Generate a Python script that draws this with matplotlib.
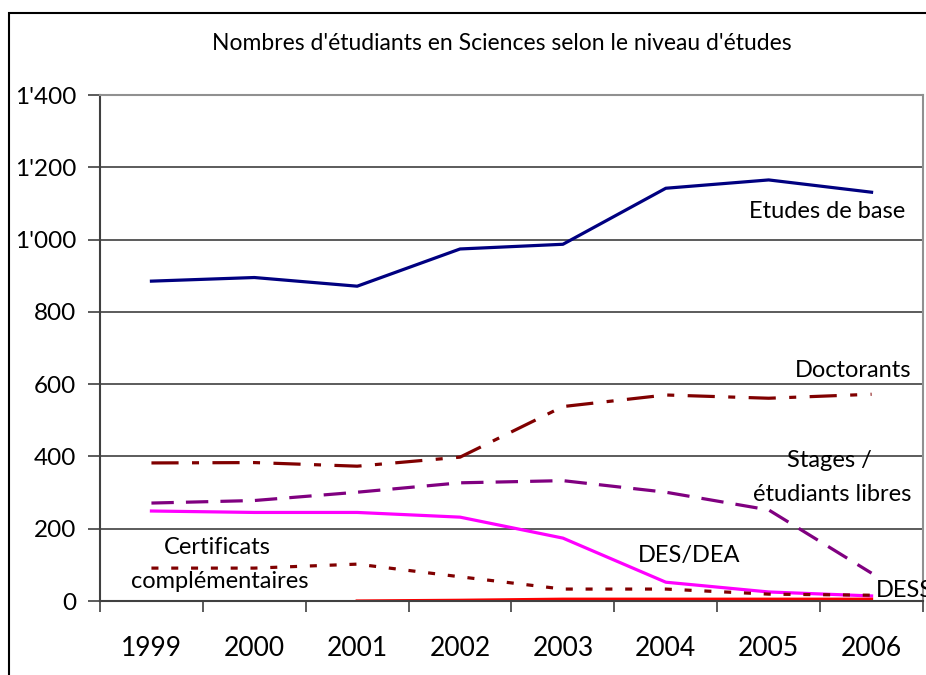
import matplotlib
matplotlib.use("Agg")
import matplotlib.pyplot as plt
from matplotlib.patches import Rectangle
from matplotlib.ticker import FuncFormatter, FixedLocator
import numpy as np

plt.rcParams["font.family"] = ["Lato", "DejaVu Sans"]

years = ["1999", "2000", "2001", "2002", "2003", "2004", "2005", "2006"]
etudes_base = [885, 895, 871, 974, 987, 1142, 1165, 1131]
doctorants = [382, 383, 373, 398, 538, 570, 561, 572]
stages = [271, 278, 301, 327, 333, 301, 252, 77]
des_dea = [249, 245, 245, 232, 174, 52, 25, 14]
certificats = [91, 91, 102, 67, 33, 33, 19, 16]
dess_years = [2, 3, 4, 5, 6, 7]  # index into years (starts 2001)
dess = [0, 2, 5, 5, 5, 5]

fig = plt.figure(figsize=(9.26, 6.75), dpi=100)
ax = fig.add_axes([100 / 926, 74 / 675, 823 / 926, 506 / 675])

x = np.arange(len(years))
lw = 2.3
ax.plot(x, etudes_base, color="#000080", lw=lw)
ax.plot(x, doctorants, color="#800000", lw=lw, linestyle=(0, (8.5, 4.2, 2.2, 4.2)))
ax.plot(x, stages, color="#800080", lw=lw, linestyle=(0, (7.0, 3.8)))
ax.plot(x, des_dea, color="#FF00FF", lw=lw)
ax.plot(x, certificats, color="#800000", lw=lw, linestyle=(0, (2.2, 4.0)))
ax.plot(dess_years, dess, color="#FF0000", lw=lw)

ax.set_xlim(-0.5, len(years) - 0.5)
ax.set_ylim(0, 1400)
ax.set_yticks(range(0, 1401, 200))
ax.yaxis.set_major_formatter(FuncFormatter(lambda v, p: f"{int(v):,}".replace(",", "'")))
ax.xaxis.set_major_locator(FixedLocator(np.arange(-0.5, len(years), 1.0)))
ax.set_xticklabels([])
for i, yr in enumerate(years):
    ax.text(i, -0.07, yr, transform=ax.get_xaxis_transform(), ha="center", va="top", fontsize=19)

ax.tick_params(axis="y", labelsize=17.5, length=9, width=1.2, color="#404040", pad=8)
ax.tick_params(axis="x", length=8, width=1.2, color="#404040")
for v in range(200, 1400, 200):
    ax.axhline(v, color="#404040", lw=1.2, zorder=0)
for side in ["top", "right"]:
    ax.spines[side].set_color("#909090")
    ax.spines[side].set_linewidth(1.5)
for side in ["left", "bottom"]:
    ax.spines[side].set_color("#404040")
    ax.spines[side].set_linewidth(1.5)

fs = 17
ax.text(6.57, 1079, "Etudes de base", ha="center", va="center", fontsize=fs)
ax.text(7.39, 639, "Doctorants", ha="right", va="center", fontsize=fs)
ax.text(6.59, 390, "Stages /", ha="center", va="center", fontsize=fs)
ax.text(6.62, 296, "étudiants libres", ha="center", va="center", fontsize=fs)
ax.text(5.23, 127, "DES/DEA", ha="center", va="center", fontsize=fs)
ax.text(0.64, 147, "Certificats", ha="center", va="center", fontsize=fs)
ax.text(0.66, 53, "complémentaires", ha="center", va="center", fontsize=fs)
ax.text(7.04, 30, "DESS", ha="left", va="center", fontsize=fs, clip_on=False)

fig.text(502 / 926, 1 - 43 / 675, "Nombres d'étudiants en Sciences selon le niveau d'études",
         ha="center", va="center", fontsize=16.5)

fig.add_artist(Rectangle((9 / 926, -0.2), 2.0, 1.2 - 13 / 675,
                         transform=fig.transFigure, fill=False, edgecolor="black", lw=1.5))

fig.savefig("out.png", dpi=100)
